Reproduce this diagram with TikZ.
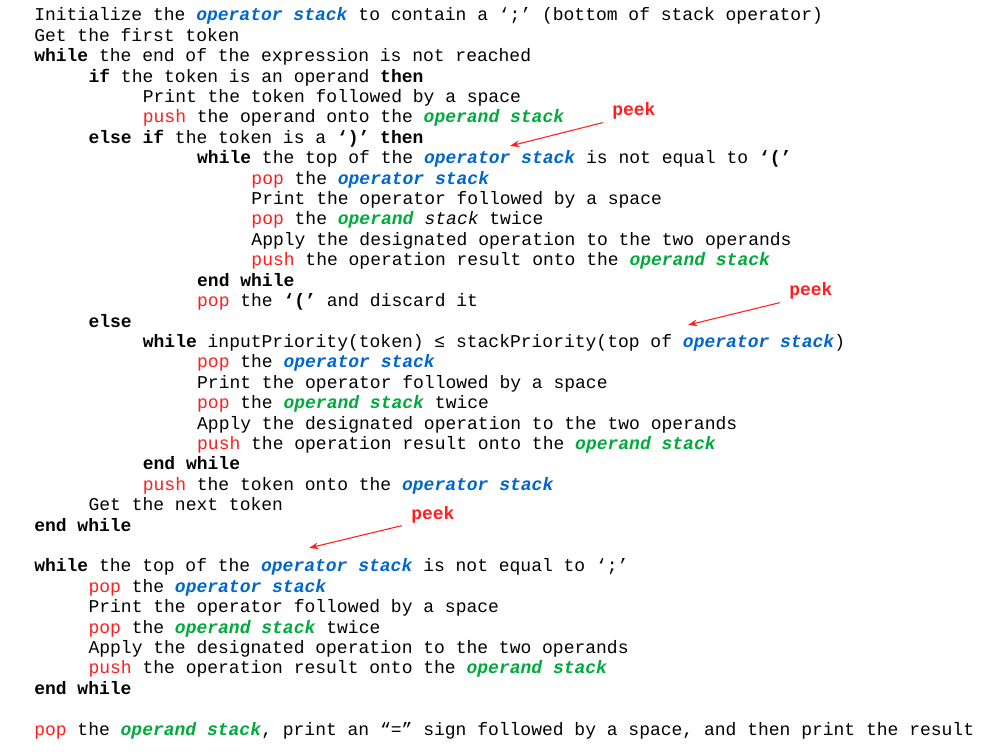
\documentclass[tikz,border=0pt]{standalone}
\usepackage{fontspec}
\setmonofont{Liberation Mono}
\usetikzlibrary{arrows.meta}
\definecolor{opblue}{RGB}{0,102,204}
\definecolor{opgreen}{RGB}{0,170,60}
\definecolor{kred}{RGB}{255,30,30}
\newcommand{\kw}[1]{\textbf{#1}}
\newcommand{\opr}[1]{\textcolor{opblue}{\textbf{\textit{#1}}}}
\newcommand{\opd}[1]{\textcolor{opgreen}{\textbf{\textit{#1}}}}
\newcommand{\rd}[1]{\textcolor{kred}{#1}}
\newcommand{\pk}{\ttfamily\bfseries\fontsize{13.5pt}{16pt}\selectfont peek}
\tikzset{codeline/.style={anchor=base west,inner sep=0pt,font=\ttfamily\fontsize{13.5pt}{16pt}\selectfont},
peeklbl/.style={anchor=base west,inner sep=0pt,text=kred},
peekarrow/.style={draw=kred,line width=0.8pt,-{Stealth[length=7pt,width=5pt]}}}
\newcommand{\CL}[4]{\node[codeline] (#1) at ({34+54.3*#2},{#3+6}) {#4};}
\begin{document}
\begin{tikzpicture}[x=0.75pt,y=-0.75pt]
\useasboundingbox (0,0) rectangle (985,752);
\CL{l1}{0}{15}{Initialize the \opr{operator stack} to contain a ‘;’ (bottom of stack operator)}
\CL{l2}{0}{35.4}{Get the first token}
\CL{l3}{0}{55.8}{\kw{while} the end of the expression is not reached}
\CL{l4}{1}{76.2}{\kw{if} the token is an operand \kw{then}}
\CL{l5}{2}{96.6}{Print the token followed by a space}
\CL{l6}{2}{117}{\rd{push} the operand onto the \opd{operand stack}}
\CL{l7}{1}{137.4}{\kw{else if} the token is a \kw{‘)’ then}}
\CL{l8}{3}{157.8}{\kw{while} the top of the \opr{operator stack} is not equal to \kw{‘(’}}
\CL{l9}{4}{178.2}{\rd{pop} the \opr{operator stack}}
\CL{l10}{4}{198.6}{Print the operator followed by a space}
\CL{l11}{4}{219}{\rd{pop} the \opd{operand} \textit{stack} twice}
\CL{l12}{4}{239.4}{Apply the designated operation to the two operands}
\CL{l13}{4}{259.8}{\rd{push} the operation result onto the \opd{operand stack}}
\CL{l14}{3}{280.2}{\kw{end while}}
\CL{l15}{3}{300.6}{\rd{pop} the \kw{‘(’} and discard it}
\CL{l16}{1}{321}{\kw{else}}
\CL{l17}{2}{341.4}{\kw{while} inputPriority(token) ≤ stackPriority(top of \opr{operator stack})}
\CL{l18}{3}{361.8}{\rd{pop} the \opr{operator stack}}
\CL{l19}{3}{382.2}{Print the operator followed by a space}
\CL{l20}{3}{402.6}{\rd{pop} the \opd{operand stack} twice}
\CL{l21}{3}{423}{Apply the designated operation to the two operands}
\CL{l22}{3}{443.4}{\rd{push} the operation result onto the \opd{operand stack}}
\CL{l23}{2}{463.8}{\kw{end while}}
\CL{l24}{2}{484.2}{\rd{push} the token onto the \opr{operator stack}}
\CL{l25}{1}{504.6}{Get the next token}
\CL{l26}{0}{525}{\kw{end while}}
\CL{l28}{0}{565.8}{\kw{while} the top of the \opr{operator stack} is not equal to ‘;’}
\CL{l29}{1}{586.2}{\rd{pop} the \opr{operator stack}}
\CL{l30}{1}{606.6}{Print the operator followed by a space}
\CL{l31}{1}{627}{\rd{pop} the \opd{operand stack} twice}
\CL{l32}{1}{647.4}{Apply the designated operation to the two operands}
\CL{l33}{1}{667.8}{\rd{push} the operation result onto the \opd{operand stack}}
\CL{l34}{0}{688.2}{\kw{end while}}
\CL{l36}{0}{729}{\rd{pop} the \opd{operand stack}, print an “=” sign followed by a space, and then print the result}
\node[peeklbl] (p1) at (612,116) {\pk};
\node[peeklbl] (p2) at (789,296) {\pk};
\node[peeklbl] (p3) at (411,519) {\pk};
\coordinate (t1) at (510,146);
\coordinate (t2) at (688,325);
\coordinate (t3) at (309,548);
\draw[peekarrow] ([xshift=-7pt,yshift=-2pt]p1.south west) -- (t1);
\draw[peekarrow] ([xshift=-7pt,yshift=-2pt]p2.south west) -- (t2);
\draw[peekarrow] ([xshift=-7pt,yshift=-2pt]p3.south west) -- (t3);
\end{tikzpicture}
\end{document}
